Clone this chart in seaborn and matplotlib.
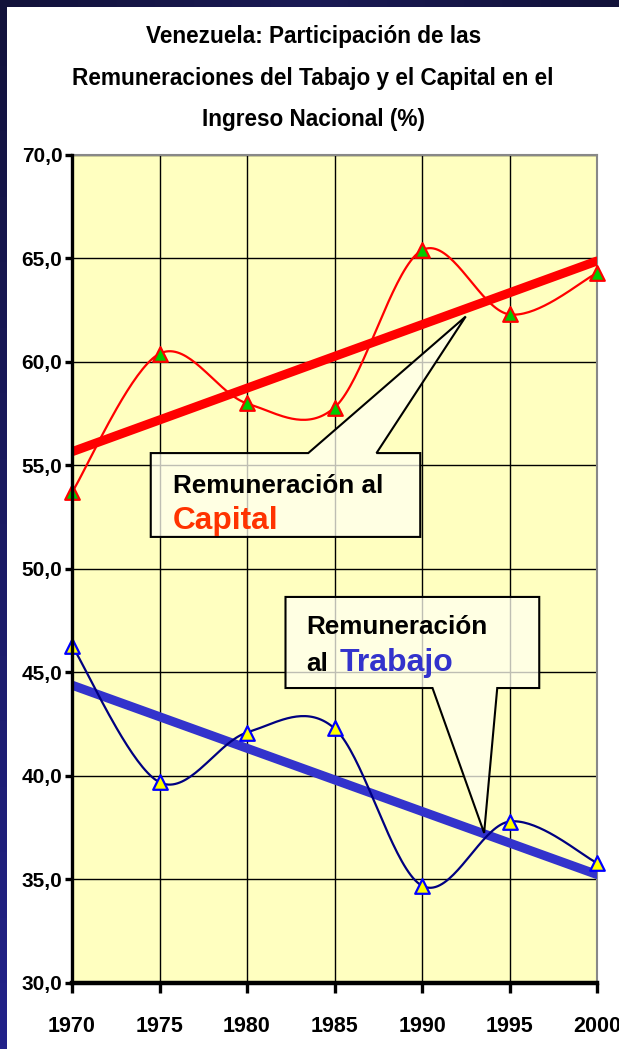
import numpy as np
import pandas as pd
import seaborn as sns
import matplotlib.pyplot as plt
from matplotlib.patches import Polygon

# Datos (% del ingreso nacional)
anios = [1970, 1975, 1980, 1985, 1990, 1995, 2000]
capital = [53.7, 60.4, 58.0, 57.8, 65.4, 62.3, 64.3]
trabajo = [46.3, 39.7, 42.1, 42.3, 34.7, 37.8, 35.8]
yticks = [30, 35, 40, 45, 50, 55, 60, 65, 70]

df = pd.DataFrame({"anio": anios, "capital": capital, "trabajo": trabajo})


# Curva suavizada tipo Excel (Bezier con puntos de control de Catmull-Rom)
def suavizar(x, y, n=40):
    p = np.column_stack([x, y]).astype(float)
    p = np.vstack([p[0], p, p[-1]])
    out = []
    t = np.linspace(0, 1, n)[:, None]
    for i in range(1, len(p) - 2):
        p0, p1, p2, p3 = p[i - 1], p[i], p[i + 1], p[i + 2]
        c1 = p1 + (p2 - p0) / 6
        c2 = p2 - (p3 - p1) / 6
        seg = ((1 - t) ** 3) * p1 + 3 * ((1 - t) ** 2) * t * c1 + 3 * (1 - t) * t ** 2 * c2 + t ** 3 * p2
        out.append(seg if i == 1 else seg[1:])
    return np.vstack(out)


sns.set_style("white")
plt.rcParams['font.family'] = ['Liberation Sans', 'DejaVu Sans']
plt.rcParams['text.color'] = 'black'
plt.rcParams['xtick.color'] = 'black'
plt.rcParams['ytick.color'] = 'black'

fig = plt.figure(figsize=(6.19, 10.49), dpi=100)
fig.patch.set_facecolor("white")

# marco azul oscuro (borde superior e izquierdo)
grad = np.linspace(0, 1, 256)[:, None]
axl = fig.add_axes([0, 0, 7 / 619, 1])
axl.imshow(grad, aspect="auto", cmap=sns.blend_palette(["#12123a", "#22228a"], as_cmap=True))
axl.axis("off")
axt = fig.add_axes([0, 1 - 7 / 1049, 1, 7 / 1049])
axt.imshow(grad.T, aspect="auto", cmap=sns.blend_palette(["#12123a", "#1a1a55", "#12123a"], as_cmap=True))
axt.axis("off")

ax = fig.add_axes([72 / 619, 1 - 983 / 1049, 525 / 619, 828 / 1049])
ax.set_facecolor("#FFFFC0")

# lineas de tendencia gruesas
sns.regplot(data=df, x="anio", y="capital", scatter=False, ci=None, ax=ax,
            line_kws={"color": "#FF0000", "lw": 6.5, "solid_capstyle": "round", "zorder": 3})
sns.regplot(data=df, x="anio", y="trabajo", scatter=False, ci=None, ax=ax,
            line_kws={"color": "#3333CC", "lw": 6.5, "solid_capstyle": "round", "zorder": 3})

# curvas suavizadas
sc = suavizar(anios, capital)
st = suavizar(anios, trabajo)
sns.lineplot(x=sc[:, 0], y=sc[:, 1], sort=False, color="#FF0000", lw=1.6, ax=ax, zorder=4)
sns.lineplot(x=st[:, 0], y=st[:, 1], sort=False, color="#000080", lw=1.6, ax=ax, zorder=4)

# marcadores
sns.scatterplot(data=df, x="anio", y="capital", marker="^", s=110, color="#00CC00",
                edgecolor="#FF0000", linewidth=1.6, ax=ax, zorder=5, clip_on=False)
sns.scatterplot(data=df, x="anio", y="trabajo", marker="^", s=110, color="#FFFF00",
                edgecolor="#0000FF", linewidth=1.6, ax=ax, zorder=5, clip_on=False)

# globos de texto
cap_box = [(1974.5, 55.6), (1983.5, 55.6), (1992.5, 62.2), (1987.4, 55.6),
           (1989.9, 55.6), (1989.9, 51.55), (1974.5, 51.55)]
tra_box = [(1982.2, 48.65), (1996.7, 48.65), (1996.7, 44.25), (1994.3, 44.25),
           (1993.55, 37.25), (1990.6, 44.25), (1982.2, 44.25)]
for pts in (cap_box, tra_box):
    ax.add_patch(Polygon(pts, closed=True, facecolor="#FFFFF0", alpha=0.75,
                         edgecolor="none", zorder=6))
    ax.add_patch(Polygon(pts, closed=True, facecolor="none", edgecolor="black",
                         lw=1.5, zorder=7, joinstyle="miter"))

ax.text(1975.75, 53.67, "Remuneración al", fontsize=18.8, fontweight="bold",
        color="black", ha="left", va="baseline", zorder=8)
ax.text(1975.75, 51.93, "Capital", fontsize=22.8, fontweight="bold",
        color="#FF3300", ha="left", va="baseline", zorder=8)
ax.text(1983.4, 46.86, "Remuneración", fontsize=18.8, fontweight="bold",
        color="black", ha="left", va="baseline", zorder=8)
ax.text(1983.4, 45.07, "al", fontsize=18.8, fontweight="bold",
        color="black", ha="left", va="baseline", zorder=8)
ax.text(1985.3, 45.07, "Trabajo", fontsize=23, fontweight="bold",
        color="#3333CC", ha="left", va="baseline", zorder=8)

ax.set_xlim(1970, 2000)
ax.set_ylim(30, 70)
ax.set_xticks(anios)
ax.set_yticks(yticks)
ax.set_yticklabels([f"{v:.1f}".replace(".", ",") for v in yticks])
ax.set_xlabel("")
ax.set_ylabel("")
ax.grid(True, color="black", lw=1.0)
ax.set_axisbelow(True)

for s in ("top", "right"):
    ax.spines[s].set_color("#888888")
    ax.spines[s].set_linewidth(1.5)
ax.spines["left"].set_color("black")
ax.spines["left"].set_linewidth(2.4)
ax.spines["bottom"].set_color("black")
ax.spines["bottom"].set_linewidth(3.2)
ax.spines["left"].set_zorder(9)
ax.spines["bottom"].set_zorder(9)

ax.tick_params(axis="y", direction="out", length=5, width=2.4, pad=2, left=True,
               labelsize=15)
ax.tick_params(axis="x", direction="out", length=7, width=2.4, pad=17, bottom=True,
               labelsize=15.5)
for lab in ax.get_xticklabels() + ax.get_yticklabels():
    lab.set_fontweight("bold")
for t in ax.xaxis.get_major_ticks() + ax.yaxis.get_major_ticks():
    t.tick1line.set_solid_capstyle("round")

fig.text(0.506, 1 - 78 / 1049,
         "Venezuela: Participación de las\nRemuneraciones del Tabajo y el Capital en el\nIngreso Nacional (%)",
         ha="center", va="center", fontsize=16.3, fontweight="bold", linespacing=2.04)

fig.savefig("out.png", dpi=100)
